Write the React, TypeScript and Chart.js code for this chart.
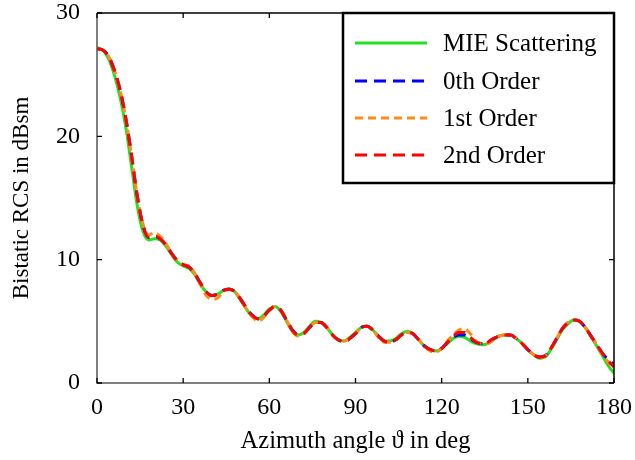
import React, { useEffect, useRef } from "react";
import { Chart, registerables } from "chart.js";

Chart.register(...registerables);

const angles = [
  0, 2, 4, 6, 8, 10, 12, 14, 16, 18, 20, 22, 24, 26, 28, 30, 32, 34, 36, 38,
  40, 42, 44, 46, 48, 50, 52, 54, 56, 58, 60, 62, 64, 66, 68, 70, 72, 74, 76, 78,
  80, 82, 84, 86, 88, 90, 92, 94, 96, 98, 100, 102, 104, 106, 108, 110, 112, 114, 116, 118,
  120, 122, 124, 126, 128, 130, 132, 134, 136, 138, 140, 142, 144, 146, 148, 150, 152, 154, 156, 158,
  160, 162, 164, 166, 168, 170, 172, 174, 176, 178, 180,
];

const mie = [
  27.2, 27.0, 26.3, 25.0, 23.2, 20.8, 17.6, 14.4, 12.3, 11.6, 11.7, 11.6, 11.1, 10.4, 9.8, 9.5, 9.3, 8.8, 8.0, 7.4,
  7.1, 7.2, 7.5, 7.65, 7.4, 6.7, 6.0, 5.4, 5.2, 5.5, 6.0, 6.2, 5.8, 5.0, 4.2, 3.9, 4.1, 4.6, 5.0, 4.9,
  4.5, 3.9, 3.5, 3.4, 3.7, 4.1, 4.5, 4.6, 4.3, 3.8, 3.4, 3.4, 3.6, 4.0, 4.2, 4.0, 3.5, 3.0, 2.7, 2.6,
  2.8, 3.2, 3.6, 3.8, 3.7, 3.4, 3.2, 3.1, 3.2, 3.5, 3.8, 3.9, 3.9, 3.6, 3.2, 2.7, 2.3, 2.0, 2.1, 2.7,
  3.5, 4.3, 4.8, 5.1, 5.0, 4.5, 3.8, 3.0, 2.2, 1.4, 0.8,
];

const order0 = [
  27.1, 27.0, 26.5, 25.4, 23.8, 21.5, 18.5, 15.2, 12.8, 11.8, 11.9, 11.7, 11.2, 10.5, 9.9, 9.6, 9.4, 8.9, 8.1, 7.4,
  7.1, 7.2, 7.5, 7.6, 7.4, 6.8, 6.1, 5.5, 5.2, 5.4, 5.9, 6.2, 5.9, 5.1, 4.3, 3.9, 4.0, 4.5, 4.9, 4.9,
  4.5, 3.9, 3.5, 3.3, 3.6, 4.0, 4.5, 4.6, 4.3, 3.8, 3.4, 3.3, 3.5, 3.9, 4.1, 4.0, 3.5, 3.0, 2.7, 2.6,
  2.8, 3.3, 3.7, 3.9, 3.9, 3.6, 3.3, 3.2, 3.3, 3.6, 3.8, 3.9, 3.9, 3.6, 3.2, 2.7, 2.3, 2.1, 2.2, 2.8,
  3.6, 4.4, 4.9, 5.1, 5.0, 4.5, 3.8, 3.1, 2.4, 1.9, 1.5,
];

const order1 = [
  27.1, 27.0, 26.5, 25.4, 23.8, 21.5, 18.5, 15.2, 12.9, 12.0, 12.2, 11.9, 11.3, 10.5, 9.9, 9.6, 9.5, 8.9, 8.0, 7.1,
  6.8, 6.9, 7.4, 7.6, 7.4, 6.8, 6.0, 5.4, 5.0, 5.3, 5.9, 6.2, 5.9, 5.1, 4.2, 3.8, 4.0, 4.5, 4.9, 4.9,
  4.5, 3.9, 3.5, 3.4, 3.6, 4.0, 4.5, 4.6, 4.3, 3.7, 3.3, 3.3, 3.5, 3.9, 4.1, 4.0, 3.5, 3.0, 2.6, 2.5,
  2.8, 3.4, 3.9, 4.3, 4.4, 4.0, 3.4, 3.2, 3.2, 3.5, 3.8, 3.9, 3.9, 3.6, 3.2, 2.7, 2.3, 2.0, 2.2, 2.8,
  3.6, 4.4, 4.9, 5.1, 5.0, 4.5, 3.8, 3.1, 2.3, 1.7, 1.2,
];

const order2 = [
  27.1, 27.0, 26.5, 25.4, 23.8, 21.5, 18.5, 15.2, 12.8, 11.8, 11.9, 11.7, 11.2, 10.5, 9.9, 9.6, 9.4, 8.9, 8.1, 7.4,
  7.1, 7.2, 7.5, 7.6, 7.4, 6.8, 6.1, 5.5, 5.2, 5.4, 5.9, 6.2, 5.9, 5.1, 4.3, 3.9, 4.0, 4.5, 4.9, 4.9,
  4.5, 3.9, 3.5, 3.4, 3.6, 4.0, 4.5, 4.6, 4.3, 3.8, 3.4, 3.3, 3.5, 3.9, 4.1, 4.0, 3.5, 3.0, 2.7, 2.6,
  2.8, 3.3, 3.8, 4.1, 4.1, 3.7, 3.3, 3.2, 3.3, 3.6, 3.8, 3.9, 3.9, 3.6, 3.2, 2.7, 2.3, 2.1, 2.2, 2.8,
  3.6, 4.4, 4.9, 5.1, 5.0, 4.5, 3.8, 3.1, 2.4, 1.8, 1.3,
];

const seriesNames = ["MIE Scattering", "0th Order", "1st Order", "2nd Order"];
const seriesColors = ["#22e022", "#0000ff", "#ff8c1a", "#ff0000"];
const seriesDashes: number[][] = [[], [12, 7], [8, 5], [12, 7]];
const xTicks = [0, 30, 60, 90, 120, 150, 180];
const yTicks = [0, 10, 20, 30];

const FONT = "'Liberation Serif', 'DejaVu Serif', serif";

const framePlugin = {
  id: "frameTicks",
  afterDatasetsDraw(chart: any) {
    const { ctx, chartArea } = chart;
    const { left, right, top, bottom } = chartArea;
    const xs = chart.scales.x;
    const ys = chart.scales.y;
    ctx.save();
    ctx.lineWidth = 1.5;
    ctx.strokeStyle = "#000";
    ctx.beginPath();
    ctx.moveTo(left, top);
    ctx.lineTo(right, top);
    ctx.lineTo(right, bottom);
    ctx.stroke();
    ctx.strokeStyle = "#555";
    ctx.beginPath();
    ctx.moveTo(left, top);
    ctx.lineTo(left, bottom);
    ctx.lineTo(right, bottom);
    ctx.stroke();
    ctx.strokeStyle = "#000";
    ctx.lineWidth = 1.3;
    const tl = 5;
    ctx.beginPath();
    xTicks.forEach((v) => {
      const px = xs.getPixelForValue(v);
      ctx.moveTo(px, bottom);
      ctx.lineTo(px, bottom - tl);
      ctx.moveTo(px, top);
      ctx.lineTo(px, top + tl);
    });
    yTicks.forEach((v) => {
      const py = ys.getPixelForValue(v);
      ctx.moveTo(left, py);
      ctx.lineTo(left + tl, py);
      ctx.moveTo(right, py);
      ctx.lineTo(right - tl, py);
    });
    ctx.stroke();

    // legend
    const bw = 271;
    const bh = 170;
    const bx = right - bw;
    const by = top;
    ctx.fillStyle = "#fff";
    ctx.fillRect(bx, by, bw, bh);
    ctx.lineWidth = 2.5;
    ctx.strokeStyle = "#000";
    ctx.strokeRect(bx, by, bw, bh);
    const rows = [30, 68, 105, 142];
    ctx.font = `25px ${FONT}`;
    ctx.textBaseline = "middle";
    ctx.textAlign = "left";
    seriesNames.forEach((name, i) => {
      const y = by + rows[i];
      ctx.save();
      ctx.lineWidth = 3;
      ctx.strokeStyle = seriesColors[i];
      ctx.setLineDash(seriesDashes[i]);
      ctx.beginPath();
      ctx.moveTo(bx + 12, y);
      ctx.lineTo(bx + 84, y);
      ctx.stroke();
      ctx.restore();
      ctx.fillStyle = "#000";
      ctx.fillText(name, bx + 100, y + 1);
    });
    ctx.restore();
  },
};

const seriesValues = [mie, order0, order1, order2];

export default function App() {
  const ref = useRef<HTMLCanvasElement>(null);
  useEffect(() => {
    document.body.style.margin = "0";
    const canvas = ref.current!;
    const datasets = seriesValues.map((vals, i) => ({
      label: seriesNames[i],
      data: angles.map((a, j) => ({ x: a, y: vals[j] })),
      borderColor: seriesColors[i],
      borderWidth: 3,
      borderDash: seriesDashes[i],
      pointRadius: 0,
      fill: false,
      cubicInterpolationMode: "monotone" as const,
      order: 4 - i,
    }));
    const chart = new Chart(canvas, {
      type: "line",
      data: { datasets },
      options: {
        animation: false,
        responsive: false,
        devicePixelRatio: 1,
        layout: { padding: { left: 0, right: 0, top: 0, bottom: 0 } },
        plugins: { legend: { display: false }, tooltip: { enabled: false } },
        scales: {
          x: {
            type: "linear",
            min: 0,
            max: 180,
            afterFit: (s: any) => {
              s.height = 77;
              s.paddingRight = 21;
              s.paddingLeft = 0;
            },
            afterBuildTicks: (s: any) => {
              s.ticks = xTicks.map((v) => ({ value: v }));
            },
            grid: { display: false, drawTicks: false },
            border: { display: false },
            ticks: {
              color: "#000",
              font: { family: FONT, size: 24 },
              padding: 10,
              maxRotation: 0,
            },
            title: {
              display: true,
              text: "Azimuth angle ϑ in deg",
              color: "#000",
              font: { family: FONT, size: 24.5 },
              padding: { top: 0, bottom: 4 },
            },
          },
          y: {
            type: "linear",
            min: 0,
            max: 30,
            afterFit: (s: any) => {
              s.width = 97;
              s.paddingTop = 13;
              s.paddingBottom = 0;
            },
            afterBuildTicks: (s: any) => {
              s.ticks = yTicks.map((v) => ({ value: v }));
            },
            grid: { display: false, drawTicks: false },
            border: { display: false },
            ticks: {
              color: "#000",
              font: { family: FONT, size: 24 },
              padding: 17,
            },
            title: {
              display: true,
              text: "Bistatic RCS in dBsm",
              color: "#000",
              font: { family: FONT, size: 23 },
              padding: { top: 8, bottom: 0 },
            },
          },
        },
      },
      plugins: [framePlugin],
    });
    return () => chart.destroy();
  }, []);
  return (
    <div style={{ width: 635, height: 460 }}>
      <canvas ref={ref} width={635} height={460} />
    </div>
  );
}
